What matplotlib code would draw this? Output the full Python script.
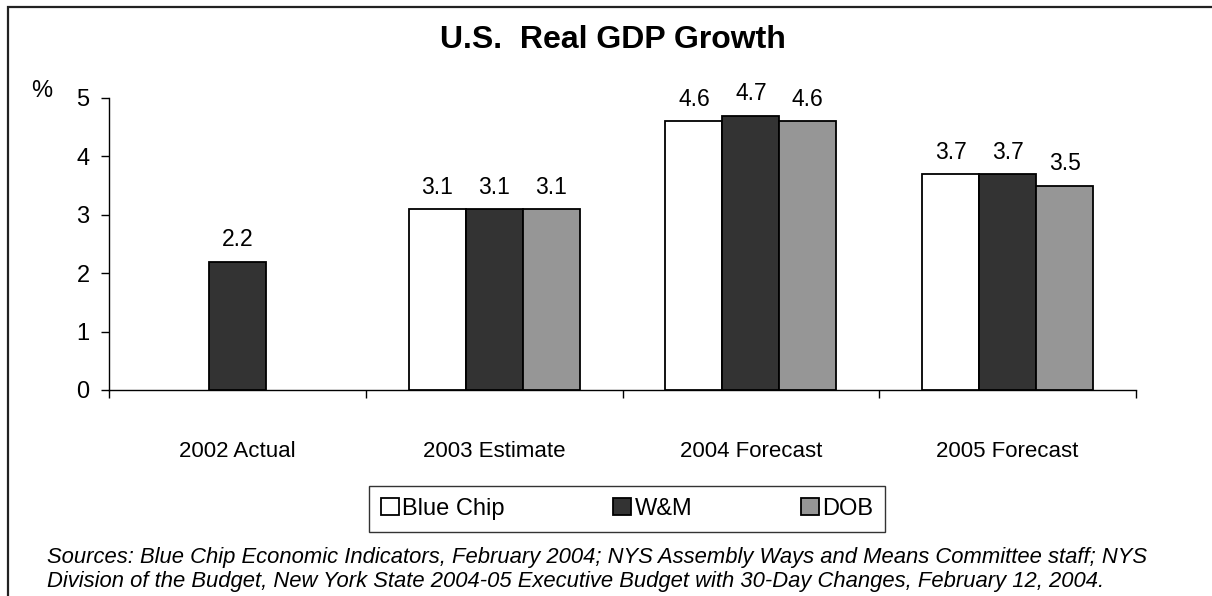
import numpy as np
import matplotlib
matplotlib.use("Agg")
import matplotlib.pyplot as plt
from matplotlib.patches import Rectangle

plt.rcParams['font.family'] = ['Liberation Sans', 'DejaVu Sans']

# ---------------- data ----------------
categories = ['2002 Actual', '2003 Estimate', '2004 Forecast', '2005 Forecast']
series_names = ['Blue Chip', 'W&M', 'DOB']
blue_chip = [np.nan, 3.1, 4.6, 3.7]
wm = [2.2, 3.1, 4.7, 3.7]
dob = [np.nan, 3.1, 4.6, 3.5]
colors = ['#ffffff', '#333333', '#969696']
title = 'U.S.  Real GDP Growth'
sources_1 = ('Sources: Blue Chip Economic Indicators, February 2004; NYS Assembly Ways and Means '
             'Committee staff; NYS')
sources_2 = ('Division of the Budget, New York State 2004-05 Executive Budget with 30-Day Changes, '
             'February 12, 2004.')

# ---------------- figure ----------------
W, H = 1212, 596
fig = plt.figure(figsize=(W / 100, H / 100), dpi=100)
ax = fig.add_axes([109 / W, 1 - 390 / H, (1136 - 109) / W, (390 - 98) / H])

x = np.arange(len(categories))
bw = 0.222
handles = []
for i, (vals, name, c) in enumerate(zip([blue_chip, wm, dob], series_names, colors)):
    pos = x + (i - 1) * bw
    bars = ax.bar(pos, vals, bw, color=c, edgecolor='black', linewidth=1.3, label=name, zorder=3)
    handles.append(bars)
    for p, v in zip(pos, vals):
        if np.isnan(v):
            continue
        ax.annotate(f'{v:.1f}', (p, v), xytext=(0, 11), textcoords='offset points',
                    ha='center', va='baseline', fontsize=16.5)

ax.set_xlim(-0.5, len(categories) - 0.5)
ax.set_ylim(0, 5)
ax.set_yticks(range(0, 6))
ax.tick_params(axis='y', labelsize=17, length=6, width=1, pad=8, direction='out')

# boundaries get the tick marks, centers get the labels
ax.set_xticks(np.arange(-0.5, len(categories)), labels=[''] * (len(categories) + 1))
ax.set_xticks(x, labels=categories, minor=True)
ax.tick_params(axis='x', which='major', length=6, width=1, direction='out')
ax.tick_params(axis='x', which='minor', length=0, labelsize=16, pad=37)

for s in ['top', 'right']:
    ax.spines[s].set_visible(False)
for s in ['left', 'bottom']:
    ax.spines[s].set_linewidth(1)

fig.text(613 / W, 1 - 40 / H, title, ha='center', va='center', fontsize=23, fontweight='bold')
fig.text(42 / W, 1 - 91 / H, '%', ha='center', va='center', fontsize=17)

leg = fig.legend(handles=handles, labels=series_names, loc='center', ncol=3,
                 bbox_to_anchor=(627 / W, 1 - 509 / H), fontsize=17, frameon=True,
                 fancybox=False, edgecolor='black', handlelength=0.75, handleheight=0.75,
                 handletextpad=0.15, columnspacing=4.6, borderpad=0.5)
leg.get_frame().set_linewidth(1)

fig.text(47 / W, 1 - 558 / H, sources_1, ha='left', va='center', fontsize=15.8, style='italic')
fig.text(47 / W, 1 - 581 / H, sources_2, ha='left', va='center', fontsize=15.8, style='italic')

# outer frame (only top/left show in the crop)
fig.patches.append(Rectangle((8 / W, -0.2), 1.2, 1.2 - 7 / H, transform=fig.transFigure,
                             fill=False, edgecolor='#222222', linewidth=1.6))

fig.savefig('out.png', dpi=100)
